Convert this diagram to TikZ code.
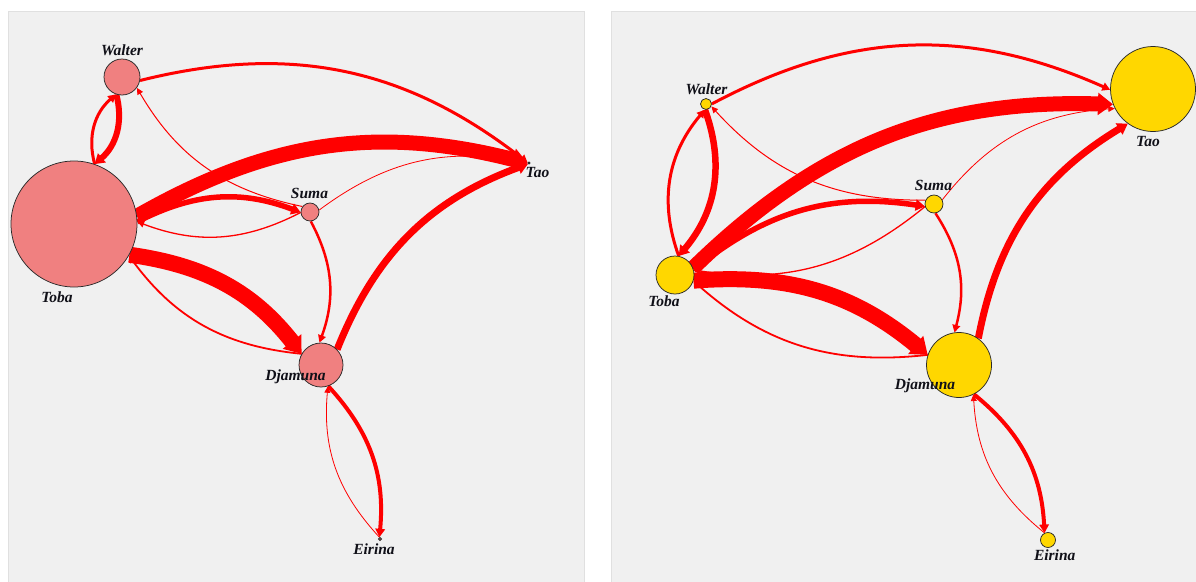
\documentclass[tikz,border=0pt]{standalone}
\usepackage{fontspec}
\setmainfont{Liberation Serif}
\usetikzlibrary{arrows.meta,calc}
\pgfdeclarelayer{panels}
\pgfdeclarelayer{links}
\pgfsetlayers{panels,links,main}

\definecolor{panelgray}{HTML}{F0F0F0}
\definecolor{panelline}{HTML}{E0E0E0}
\definecolor{nodeline}{HTML}{2A2A2A}
\definecolor{coral}{HTML}{F08080}
\definecolor{gold}{HTML}{FFD700}
\definecolor{linkred}{HTML}{FF0000}
\definecolor{labelink}{HTML}{101018}

% A directed tie: leaves the source where the straight line between the two
% centres crosses its border, arrives likewise, and bows to the left.
% #1 bend angle, #2 line width, #3 source node, #4 target node
\newcommand{\tielink}[4][24]{%
  \draw[tie=#2] let \p1=(#3.center), \p2=(#4.center),
      \n1={atan2(\y2-\y1,\x2-\x1)}, \n2={\n1+180} in
      (#3.\n1) to[bend left=#1] (#4.\n2);}

\begin{document}
\begin{tikzpicture}[x=1pt,y=-1pt,
  panel/.style={fill=panelgray, draw=panelline, line width=0.8pt},
  actor/.style={circle, draw=nodeline, line width=0.75pt, inner sep=0pt, minimum size=#1},
  outnode/.style={actor=#1, fill=coral},
  innode/.style={actor=#1, fill=gold},
  actorlabel/.style={anchor=base, inner sep=0pt, text=labelink,
    font=\bfseries\itshape\fontsize{15.5}{18}\selectfont},
  tie/.style={draw=linkred, line width=#1,
    -{Triangle[length=6pt 0.6, width=5pt 1.1]}},
]
\useasboundingbox (0,0) rectangle (1196,581);

\begin{pgfonlayer}{panels}
  \fill[white] (0,0) rectangle (1196,581);
  \draw[panel] (8,11) rectangle (584,582);
  \draw[panel] (611,11) rectangle (1197,582);
\end{pgfonlayer}

% ---------- left network: node size by outgoing strength ----------
\node[outnode=36pt]  (LWalter)  at (122,77)  {};
\node[outnode=126pt] (LToba)    at (74,224)  {};
\node[outnode=18pt]  (LSuma)    at (310,212) {};
\node[outnode=2pt]   (LTao)     at (529,163) {};
\node[outnode=44pt]  (LDjamuna) at (321,365) {};
\node[outnode=3pt]   (LEirina)  at (380,539) {};

\begin{pgfonlayer}{links}
  \tielink[32]{3pt}{LToba}{LWalter}
  \tielink[32]{6pt}{LWalter}{LToba}
  \tielink[26]{3pt}{LWalter}{LTao}
  \tielink{1pt}{LSuma}{LWalter}
  \tielink[22]{15pt}{LToba}{LTao}
  \tielink{5.5pt}{LToba}{LSuma}
  \tielink{1.3pt}{LSuma}{LToba}
  \tielink{0.8pt}{LSuma}{LTao}
  \tielink{2.5pt}{LSuma}{LDjamuna}
  \tielink[22]{16pt}{LToba}{LDjamuna}
  \tielink{1.8pt}{LDjamuna}{LToba}
  \tielink{7pt}{LDjamuna}{LTao}
  \tielink{4pt}{LDjamuna}{LEirina}
  \tielink{0.8pt}{LEirina}{LDjamuna}
\end{pgfonlayer}

\node[actorlabel] (LWalterName)  at (122,55)    {Walter};
\node[actorlabel] (LSumaName)    at (309.5,198) {Suma};
\node[actorlabel] (LTaoName)     at (537.5,177) {Tao};
\node[actorlabel] (LTobaName)    at (57,302)    {Toba};
\node[actorlabel] (LDjamunaName) at (295.5,380) {Djamuna};
\node[actorlabel] (LEirinaName)  at (374,554)   {Eirina};

% ---------- right network: node size by incoming strength ----------
\node[innode=11pt] (RWalter)  at (706,104)  {};
\node[innode=38pt] (RToba)    at (675,275)  {};
\node[innode=85pt] (RTao)     at (1153,89)  {};
\node[innode=18pt] (RSuma)    at (934,204)  {};
\node[innode=65pt] (RDjamuna) at (959,365)  {};
\node[innode=15pt] (REirina)  at (1048,540) {};

\begin{pgfonlayer}{links}
  \tielink[30]{3pt}{RToba}{RWalter}
  \tielink[30]{6.5pt}{RWalter}{RToba}
  \tielink[26]{3pt}{RWalter}{RTao}
  \tielink{1pt}{RSuma}{RWalter}
  \tielink[23]{15pt}{RToba}{RTao}
  \tielink{5.5pt}{RToba}{RSuma}
  \tielink{1.3pt}{RSuma}{RToba}
  \tielink{0.8pt}{RSuma}{RTao}
  \tielink{2.5pt}{RSuma}{RDjamuna}
  \tielink[22]{16pt}{RToba}{RDjamuna}
  \tielink{1.8pt}{RDjamuna}{RToba}
  \tielink{7pt}{RDjamuna}{RTao}
  \tielink{4pt}{RDjamuna}{REirina}
  \tielink{0.8pt}{REirina}{RDjamuna}
\end{pgfonlayer}

\node[actorlabel] (RWalterName)  at (706.5,94)   {Walter};
\node[actorlabel] (RSumaName)    at (933.5,190.7) {Suma};
\node[actorlabel] (RTaoName)     at (1148,146.7) {Tao};
\node[actorlabel] (RTobaName)    at (664,306.7)  {Toba};
\node[actorlabel] (RDjamunaName) at (925,389)    {Djamuna};
\node[actorlabel] (REirinaName)  at (1054.7,560) {Eirina};
\end{tikzpicture}
\end{document}
